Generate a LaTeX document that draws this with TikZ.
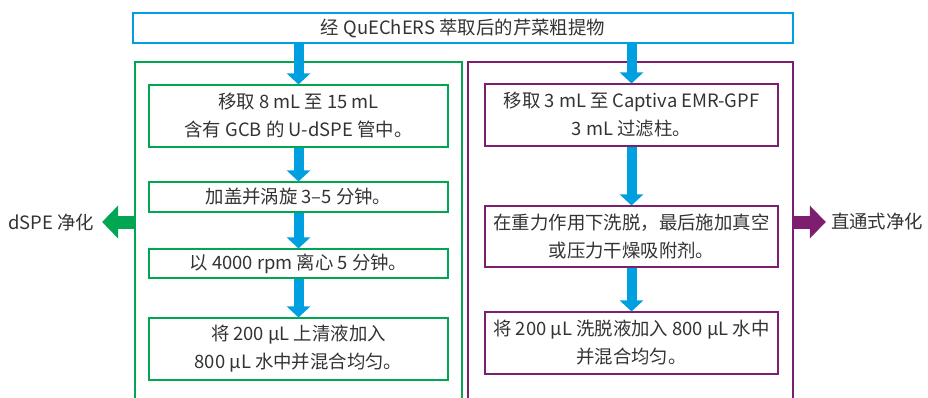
\documentclass[tikz,border=0pt]{standalone}
\usepackage{fontspec}
\setmainfont{Noto Sans CJK SC}
\usetikzlibrary{arrows.meta}
\definecolor{cblue}{HTML}{00A0E0}
\definecolor{cgreen}{HTML}{00A651}
\definecolor{cpurple}{HTML}{7D1E6E}
\definecolor{ctext}{HTML}{333333}
\begin{document}
\begin{tikzpicture}[x=1pt,y=-1pt,
  every node/.style={font=\fontsize{18.4}{28}\selectfont, text=ctext, inner sep=0pt},
  topbox/.style={draw=cblue, line width=2.5pt, minimum width=660pt, minimum height=30pt, align=center},
  gbox/.style={draw=cgreen, line width=1.1pt, minimum width=299pt, align=center},
  pbox/.style={draw=cpurple, line width=1.1pt, minimum width=293pt, align=center},
  gpanel/.style={draw=cgreen, line width=2.5pt},
  ppanel/.style={draw=cpurple, line width=2.5pt},
  barrow/.style={draw=cblue, line width=10pt, -{Triangle[width=23pt,length=11pt]}},
  garrow/.style={draw=cgreen, line width=13pt, -{Triangle[width=32pt,length=16pt]}},
  parrow/.style={draw=cpurple, line width=13pt, -{Triangle[width=32pt,length=16pt]}},
  lbl/.style={font=\fontsize{18.4}{28}\selectfont}
]
\useasboundingbox (0,0) rectangle (928,398);
% panels
\draw[gpanel] (135,400) -- (135,62) -- (462,62) -- (462,400);
\draw[ppanel] (468,400) -- (468,62) -- (793,62) -- (793,400);
\coordinate (gpw) at (135,222);
\coordinate (ppe) at (793,222);
% top box
\node[topbox] (top) at (463,28) {经 QuEChERS 萃取后的芹菜粗提物};
% left column
\node[gbox, minimum height=62pt] (l1) at (298.5,116) {移取 8 mL 至 15 mL\\含有 GCB 的 U-dSPE 管中。};
\node[gbox, minimum height=30pt] (l2) at (298.5,197) {加盖并涡旋 3–5 分钟。};
\node[gbox, minimum height=29pt] (l3) at (298.5,263.5) {以 4000 rpm 离心 5 分钟。};
\node[gbox, minimum height=62pt] (l4) at (298.5,349) {将 200 μL 上清液加入\\800 μL 水中并混合均匀。};
% right column
\node[pbox, minimum height=62pt] (r1) at (631.5,115) {移取 3 mL 至 Captiva EMR-GPF\\3 mL 过滤柱。};
\node[pbox, minimum height=61pt] (r2) at (631.5,236.5) {在重力作用下洗脱，最后施加真空\\或压力干燥吸附剂。};
\node[pbox, minimum height=62pt] (r3) at (631.5,343) {将 200 μL 洗脱液加入 800 μL 水中\\并混合均匀。};
% side labels
\node[lbl] (dspe) at (51,222) {dSPE 净化};
\node[lbl] (thru) at (877,222) {直通式净化};
% arrows
\draw[barrow] (top.south -| l1.north) -- (l1.north);
\draw[barrow] (top.south -| r1.north) -- (r1.north);
\draw[barrow] (l1.south) -- (l2.north);
\draw[barrow] (l2.south) -- (l3.north);
\draw[barrow] (l3.south) -- (l4.north);
\draw[barrow] (r1.south) -- (r2.north);
\draw[barrow] (r2.south) -- (r3.north);
\draw[garrow] (gpw) -- ([xshift=8pt]dspe.east);
\draw[parrow] (ppe) -- ([xshift=-5pt]thru.west);
\end{tikzpicture}
\end{document}
